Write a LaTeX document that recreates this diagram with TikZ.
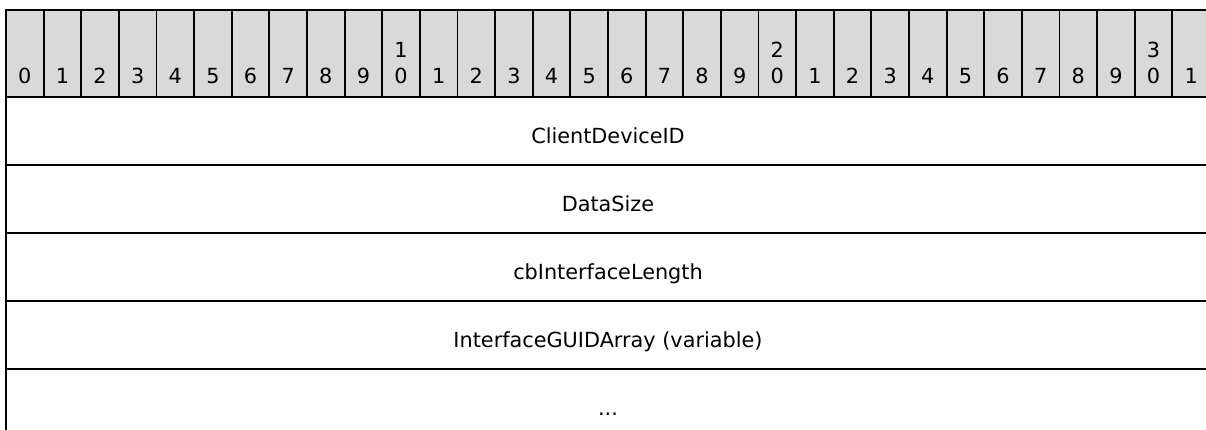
\documentclass[tikz,border=0pt]{standalone}
\usepackage{fontspec}
\setmainfont{DejaVu Sans}
\definecolor{headgray}{RGB}{217,217,217}
\tikzset{
  bitbox/.style={draw=black, fill=headgray},
  bitnum/.style={anchor=base, inner sep=0pt, font=\fontsize{10.4}{12}\selectfont},
  fieldname/.style={anchor=base, inner sep=0pt, font=\fontsize{10.4}{12}\selectfont}
}
\begin{document}
\begin{tikzpicture}[x=0.5pt, y=-0.5pt, line width=0.9pt]

    \useasboundingbox (0, 0) rectangle (1206, 429);

    \coordinate (TL) at (6, 10);
    \coordinate (HL) at (6, 97);
    \coordinate (HR) at (1210, 97);

    \coordinate (R1L) at (6, 165);
    \coordinate (R1R) at (1210, 165);
    \coordinate (R2L) at (6, 233);
    \coordinate (R2R) at (1210, 233);
    \coordinate (R3L) at (6, 301);
    \coordinate (R3R) at (1210, 301);
    \coordinate (R4L) at (6, 369);
    \coordinate (R4R) at (1210, 369);
    \coordinate (BL) at (6, 440);

    % bit ruler
    \foreach \i in {0,...,31} {
      \pgfmathsetmacro{\xl}{6 + 37.625*\i}
      \pgfmathsetmacro{\xc}{\xl + 18.8}
      \pgfmathtruncatemacro{\lo}{mod(\i, 10)}
      \pgfmathtruncatemacro{\hi}{div(\i, 10)}
      \draw[bitbox] (\xl, 10) rectangle ++(37.625, 87);
      \node[bitnum] (b\i) at (\xc, 83) {\lo};
      \ifnum\lo=0 \ifnum\hi>0
        \node[bitnum] (t\i) at (\xc, 57) {\hi};
      \fi\fi
    }

    \draw (HL) -- (BL);
    \draw (R1L) -- (R1R);
    \draw (R2L) -- (R2R);
    \draw (R3L) -- (R3R);
    \draw (R4L) -- (R4R);

    \node[fieldname] (cid) at (608, 143) {ClientDeviceID};
    \node[fieldname] (dsz) at (608, 211) {DataSize};
    \node[fieldname] (cbl) at (608, 279) {cbInterfaceLength};
    \node[fieldname] (guid) at (608, 347) {InterfaceGUIDArray (variable)};
    \node[fieldname] (more) at (608, 415) {...};

  \end{tikzpicture}
\end{document}
